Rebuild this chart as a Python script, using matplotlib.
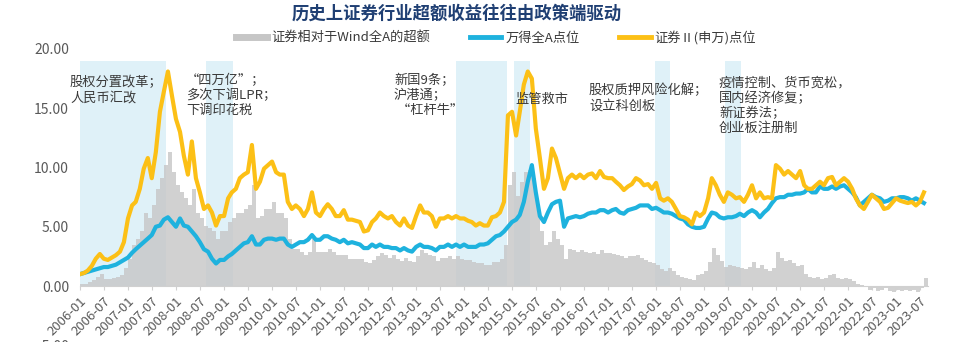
import matplotlib
matplotlib.use('Agg')
import matplotlib.pyplot as plt
from matplotlib.lines import Line2D
import pandas as pd

plt.rcParams['font.family'] = ['Noto Sans CJK SC', 'DejaVu Sans']

# ---------------- data (monthly) ----------------
start_month = '2006-01-01'

# 证券Ⅱ(申万)点位
sec_index = [
    1.0, 1.1, 1.3, 1.7, 2.3, 2.7, 2.3, 2.2, 2.4, 2.6, 2.9, 3.7,
    5.7, 6.8, 7.1, 8.2, 9.9, 10.8, 9.1, 11.3, 14.7, 16.4, 18.1, 16.1,
    14.1, 13.0, 11.0, 9.4, 12.2, 9.1, 7.9, 6.5, 6.8, 6.2, 5.1, 5.9,
    5.9, 7.4, 7.9, 8.2, 9.1, 9.4, 9.6, 11.9, 8.2, 8.8, 9.9, 10.2,
    10.5, 9.6, 9.4, 9.4, 7.1, 6.5, 6.8, 6.5, 5.9, 6.5, 7.9, 6.2,
    5.9, 6.5, 6.9, 6.5, 5.9, 5.9, 6.4, 5.6, 5.6, 5.5, 5.4, 4.6,
    4.7, 5.4, 5.7, 6.2, 5.9, 5.7, 5.9, 5.4, 5.1, 5.7, 5.1, 4.9,
    5.9, 6.8, 6.2, 6.2, 5.9, 5.0, 5.7, 5.7, 5.9, 5.7, 5.9, 5.7,
    5.7, 5.5, 5.4, 5.1, 5.3, 5.1, 5.1, 5.8, 5.9, 6.2, 7.1, 14.4,
    14.7, 12.7, 14.7, 17.0, 18.1, 17.5, 13.3, 10.8, 8.2, 9.1, 11.6, 10.8,
    9.5, 8.2, 9.1, 9.4, 9.1, 9.4, 9.1, 9.4, 9.5, 9.1, 9.7, 9.2,
    9.1, 9.1, 8.8, 8.5, 8.1, 8.4, 8.6, 9.1, 8.9, 8.5, 8.6, 8.2,
    8.7, 7.4, 7.2, 7.4, 7.1, 6.5, 5.9, 5.8, 5.6, 5.2, 6.2, 5.9,
    6.2, 7.4, 9.1, 8.5, 7.7, 7.1, 7.9, 7.7, 7.4, 7.5, 7.1, 7.7,
    8.5, 7.4, 7.9, 7.4, 7.5, 7.4, 10.2, 9.9, 9.4, 9.7, 9.4, 9.1,
    9.7, 8.5, 8.2, 8.2, 8.5, 8.8, 8.5, 9.1, 9.2, 8.5, 8.8, 9.1,
    8.8, 8.2, 7.4, 6.8, 6.5, 7.1, 7.7, 7.4, 7.1, 6.5, 6.6, 7.0,
    7.4, 7.2, 7.1, 7.0, 7.1, 6.8, 7.1, 7.9,
]

# 万得全A点位
wind_a = [
    1.0, 1.1, 1.2, 1.3, 1.4, 1.5, 1.6, 1.6, 1.7, 1.8, 2.0, 2.2,
    2.4, 2.8, 3.1, 3.4, 3.7, 4.0, 4.3, 5.0, 5.1, 5.6, 5.8, 5.4,
    5.0, 5.7, 5.1, 5.0, 4.6, 4.2, 3.7, 3.1, 2.9, 2.3, 1.9, 2.2,
    2.2, 2.5, 2.7, 3.0, 3.3, 3.6, 3.7, 4.2, 3.5, 3.5, 3.9, 4.0,
    4.0, 3.9, 4.0, 4.0, 3.5, 3.3, 3.5, 3.7, 3.7, 3.9, 4.3, 3.9,
    3.9, 4.2, 4.2, 4.0, 3.9, 3.7, 3.9, 3.6, 3.7, 3.6, 3.5, 3.2,
    3.2, 3.5, 3.3, 3.5, 3.3, 3.3, 3.2, 3.2, 3.0, 3.2, 3.0, 2.9,
    3.3, 3.5, 3.3, 3.3, 3.2, 3.0, 3.3, 3.3, 3.5, 3.3, 3.5, 3.3,
    3.5, 3.3, 3.3, 3.3, 3.5, 3.5, 3.6, 3.9, 4.2, 4.3, 4.6, 5.0,
    5.4, 5.6, 6.0, 7.1, 8.8, 10.2, 7.9, 5.9, 5.4, 6.2, 6.9, 7.1,
    7.2, 5.0, 5.7, 5.8, 5.9, 5.8, 5.9, 6.1, 6.2, 6.2, 6.4, 6.4,
    6.2, 6.4, 6.5, 6.2, 6.1, 6.4, 6.5, 6.6, 6.8, 6.8, 6.8, 6.5,
    6.6, 6.4, 6.2, 6.2, 6.1, 5.9, 5.7, 5.6, 5.2, 5.0, 4.9, 4.9,
    5.0, 5.7, 6.2, 6.1, 5.8, 5.7, 5.8, 5.8, 5.9, 6.1, 5.9, 6.2,
    6.4, 6.2, 5.8, 6.2, 6.5, 7.0, 7.4, 7.5, 7.5, 7.7, 7.7, 7.8,
    7.8, 7.9, 8.2, 7.9, 7.9, 8.4, 8.2, 8.2, 8.4, 8.2, 8.4, 8.5,
    8.2, 7.9, 7.5, 6.8, 7.1, 7.4, 7.7, 7.5, 7.4, 7.1, 7.2, 7.4,
    7.4, 7.5, 7.5, 7.4, 7.2, 7.4, 7.2, 7.0,
]

# 证券相对于Wind全A的超额
excess = [
    0.2, 0.2, 0.3, 0.5, 0.8, 1.0, 0.6, 0.6, 0.7, 0.8, 0.9, 1.5,
    2.3, 3.5, 4.0, 4.6, 6.2, 5.7, 6.8, 8.2, 9.1, 10.2, 11.3, 9.6,
    8.5, 7.9, 7.4, 6.8, 8.2, 6.2, 5.7, 5.1, 4.9, 4.6, 4.0, 4.6,
    4.6, 5.4, 5.7, 6.2, 6.2, 6.5, 6.8, 8.5, 5.7, 5.9, 6.5, 6.5,
    7.1, 6.2, 6.2, 5.7, 4.0, 3.1, 3.1, 2.9, 2.6, 2.9, 4.0, 2.9,
    2.9, 2.9, 3.1, 2.9, 2.6, 2.6, 2.6, 2.3, 2.3, 2.3, 2.3, 2.0,
    1.9, 2.2, 2.5, 2.8, 2.6, 2.4, 2.6, 2.3, 2.1, 2.4, 2.1, 2.0,
    2.5, 3.0, 2.8, 2.6, 2.5, 2.1, 2.4, 2.4, 2.5, 2.3, 2.5, 2.3,
    2.2, 2.2, 2.0, 1.9, 1.9, 1.8, 1.8, 2.0, 2.0, 2.3, 3.5, 8.5,
    9.6, 7.6, 8.8, 9.6, 9.8, 9.1, 6.8, 4.6, 3.5, 3.7, 4.6, 4.0,
    3.5, 2.3, 3.1, 3.0, 2.9, 3.0, 2.9, 2.8, 2.9, 2.7, 3.0, 2.8,
    2.8, 2.7, 2.6, 2.5, 2.4, 2.5, 2.5, 2.6, 2.4, 2.2, 2.0, 1.9,
    1.8, 1.4, 1.3, 1.5, 1.3, 0.9, 0.8, 0.7, 0.6, 0.5, 0.9, 1.0,
    1.3, 2.0, 3.2, 2.6, 2.1, 1.6, 1.8, 1.7, 1.6, 1.5, 1.4, 1.6,
    2.0, 1.5, 1.8, 1.4, 1.3, 1.5, 2.9, 2.4, 2.1, 2.2, 1.9, 1.7,
    1.8, 1.0, 0.8, 0.7, 0.8, 0.6, 0.7, 0.9, 1.0, 0.7, 0.6, 0.7,
    0.6, 0.4, 0.2, 0.1, -0.1, -0.3, -0.2, -0.4, -0.3, -0.2, -0.4, -0.5,
    -0.3, -0.4, -0.3, -0.4, -0.3, -0.5, -0.2, 0.7,
]

# 政策驱动时期 (shaded)
policy_start = ['2006-01-01', '2008-08-15', '2013-11-01', '2015-01-15', '2017-12-25', '2019-06-10']
policy_end = ['2007-10-15', '2009-03-10', '2014-11-25', '2015-05-20', '2018-04-15', '2019-10-10']
policy_top = 19.0

notes = [
    '股权分置改革；\n人民币汇改',
    '“四万亿”；\n多次下调LPR；\n下调印花税',
    '新国9条；\n沪港通；\n “杠杆牛”',
    '监管救市',
    '股权质押风险化解；\n设立科创板',
    '疫情控制、货币宽松，\n国内经济修复；\n新证券法；\n创业板注册制',
]
note_px = [(70, 76), (186, 74), (394, 74), (515, 93), (589, 84), (719, 76)]

title = '历史上证券行业超额收益往往由政策端驱动'
lbl_excess = '证券相对于Wind全A的超额'
lbl_wind = '万得全A点位'
lbl_sec = '证券Ⅱ(申万)点位'

# ---------------- plot ----------------
dates = pd.date_range(start_month, periods=len(sec_index), freq='MS')

W, H = 966, 342
fig = plt.figure(figsize=(W / 100, H / 100), dpi=100)
ax = fig.add_axes([80 / W, 1 - 345.25 / H, 848 / W, 296.25 / H])

c_yellow = '#fcc016'
c_blue = '#1eb2de'
c_gray = '#c6c6c6'
c_shade = '#dff1f8'

# axis line sits at zero (set before ticks, set_position resets them)
for sp in ['top', 'right', 'left']:
    ax.spines[sp].set_visible(False)
ax.spines['bottom'].set_position(('data', 0))
ax.spines['bottom'].set_color('#d0d0d0')
ax.spines['bottom'].set_zorder(5)

for s, e in zip(policy_start, policy_end):
    ax.fill_between([pd.Timestamp(s), pd.Timestamp(e)], 0, policy_top,
                    color=c_shade, lw=0, zorder=0)

ax.bar(dates, excess, width=29, align='edge', color=c_gray, alpha=0.8,
       lw=0, zorder=1)
ax.plot(dates, wind_a, color=c_blue, lw=3, zorder=3, solid_joinstyle='round')
ax.plot(dates, sec_index, color=c_yellow, lw=3, zorder=4, solid_joinstyle='round')

ax.set_xlim(pd.Timestamp('2006-01-01'), pd.Timestamp('2023-09-01'))
ax.set_ylim(-5, 20)
ax.set_yticks([-5, 0, 5, 10, 15, 20])
ax.set_yticklabels(['%.2f' % v for v in [-5, 0, 5, 10, 15, 20]])

ticks = pd.date_range('2006-01-01', '2023-07-01', freq='6MS')
ax.set_xticks(ticks)
ax.set_xticklabels([t.strftime('%Y-%m') for t in ticks], rotation=45,
                   ha='right', rotation_mode='anchor')

ax.tick_params(axis='y', length=0, labelsize=10, labelcolor='#595959', pad=8)
ax.tick_params(axis='x', length=3, color='#d0d0d0', labelsize=9.5,
               labelcolor='#595959', pad=3)
ax.set_facecolor('none')

for txt, (px, py) in zip(notes, note_px):
    fig.text(px / W, 1 - py / H, txt, fontsize=9.5, color='#3a3a3a',
             va='top', ha='left', linespacing=1.2)

fig.text(457 / W, 1 - 14 / H, title, fontsize=12.5, fontweight='bold',
         color='#1f3f73', ha='center', va='center')

handles = [Line2D([], [], color=c_gray, lw=5),
           Line2D([], [], color=c_blue, lw=3.5),
           Line2D([], [], color=c_yellow, lw=3.5)]
fig.legend(handles, [lbl_excess, lbl_wind, lbl_sec], loc='center',
           bbox_to_anchor=(496 / W, 1 - 38 / H), ncol=3, frameon=False,
           fontsize=9.5, handlelength=2.4, columnspacing=3,
           handletextpad=0.3, labelcolor='#3a3a3a')

fig.savefig('out.png', dpi=100)
